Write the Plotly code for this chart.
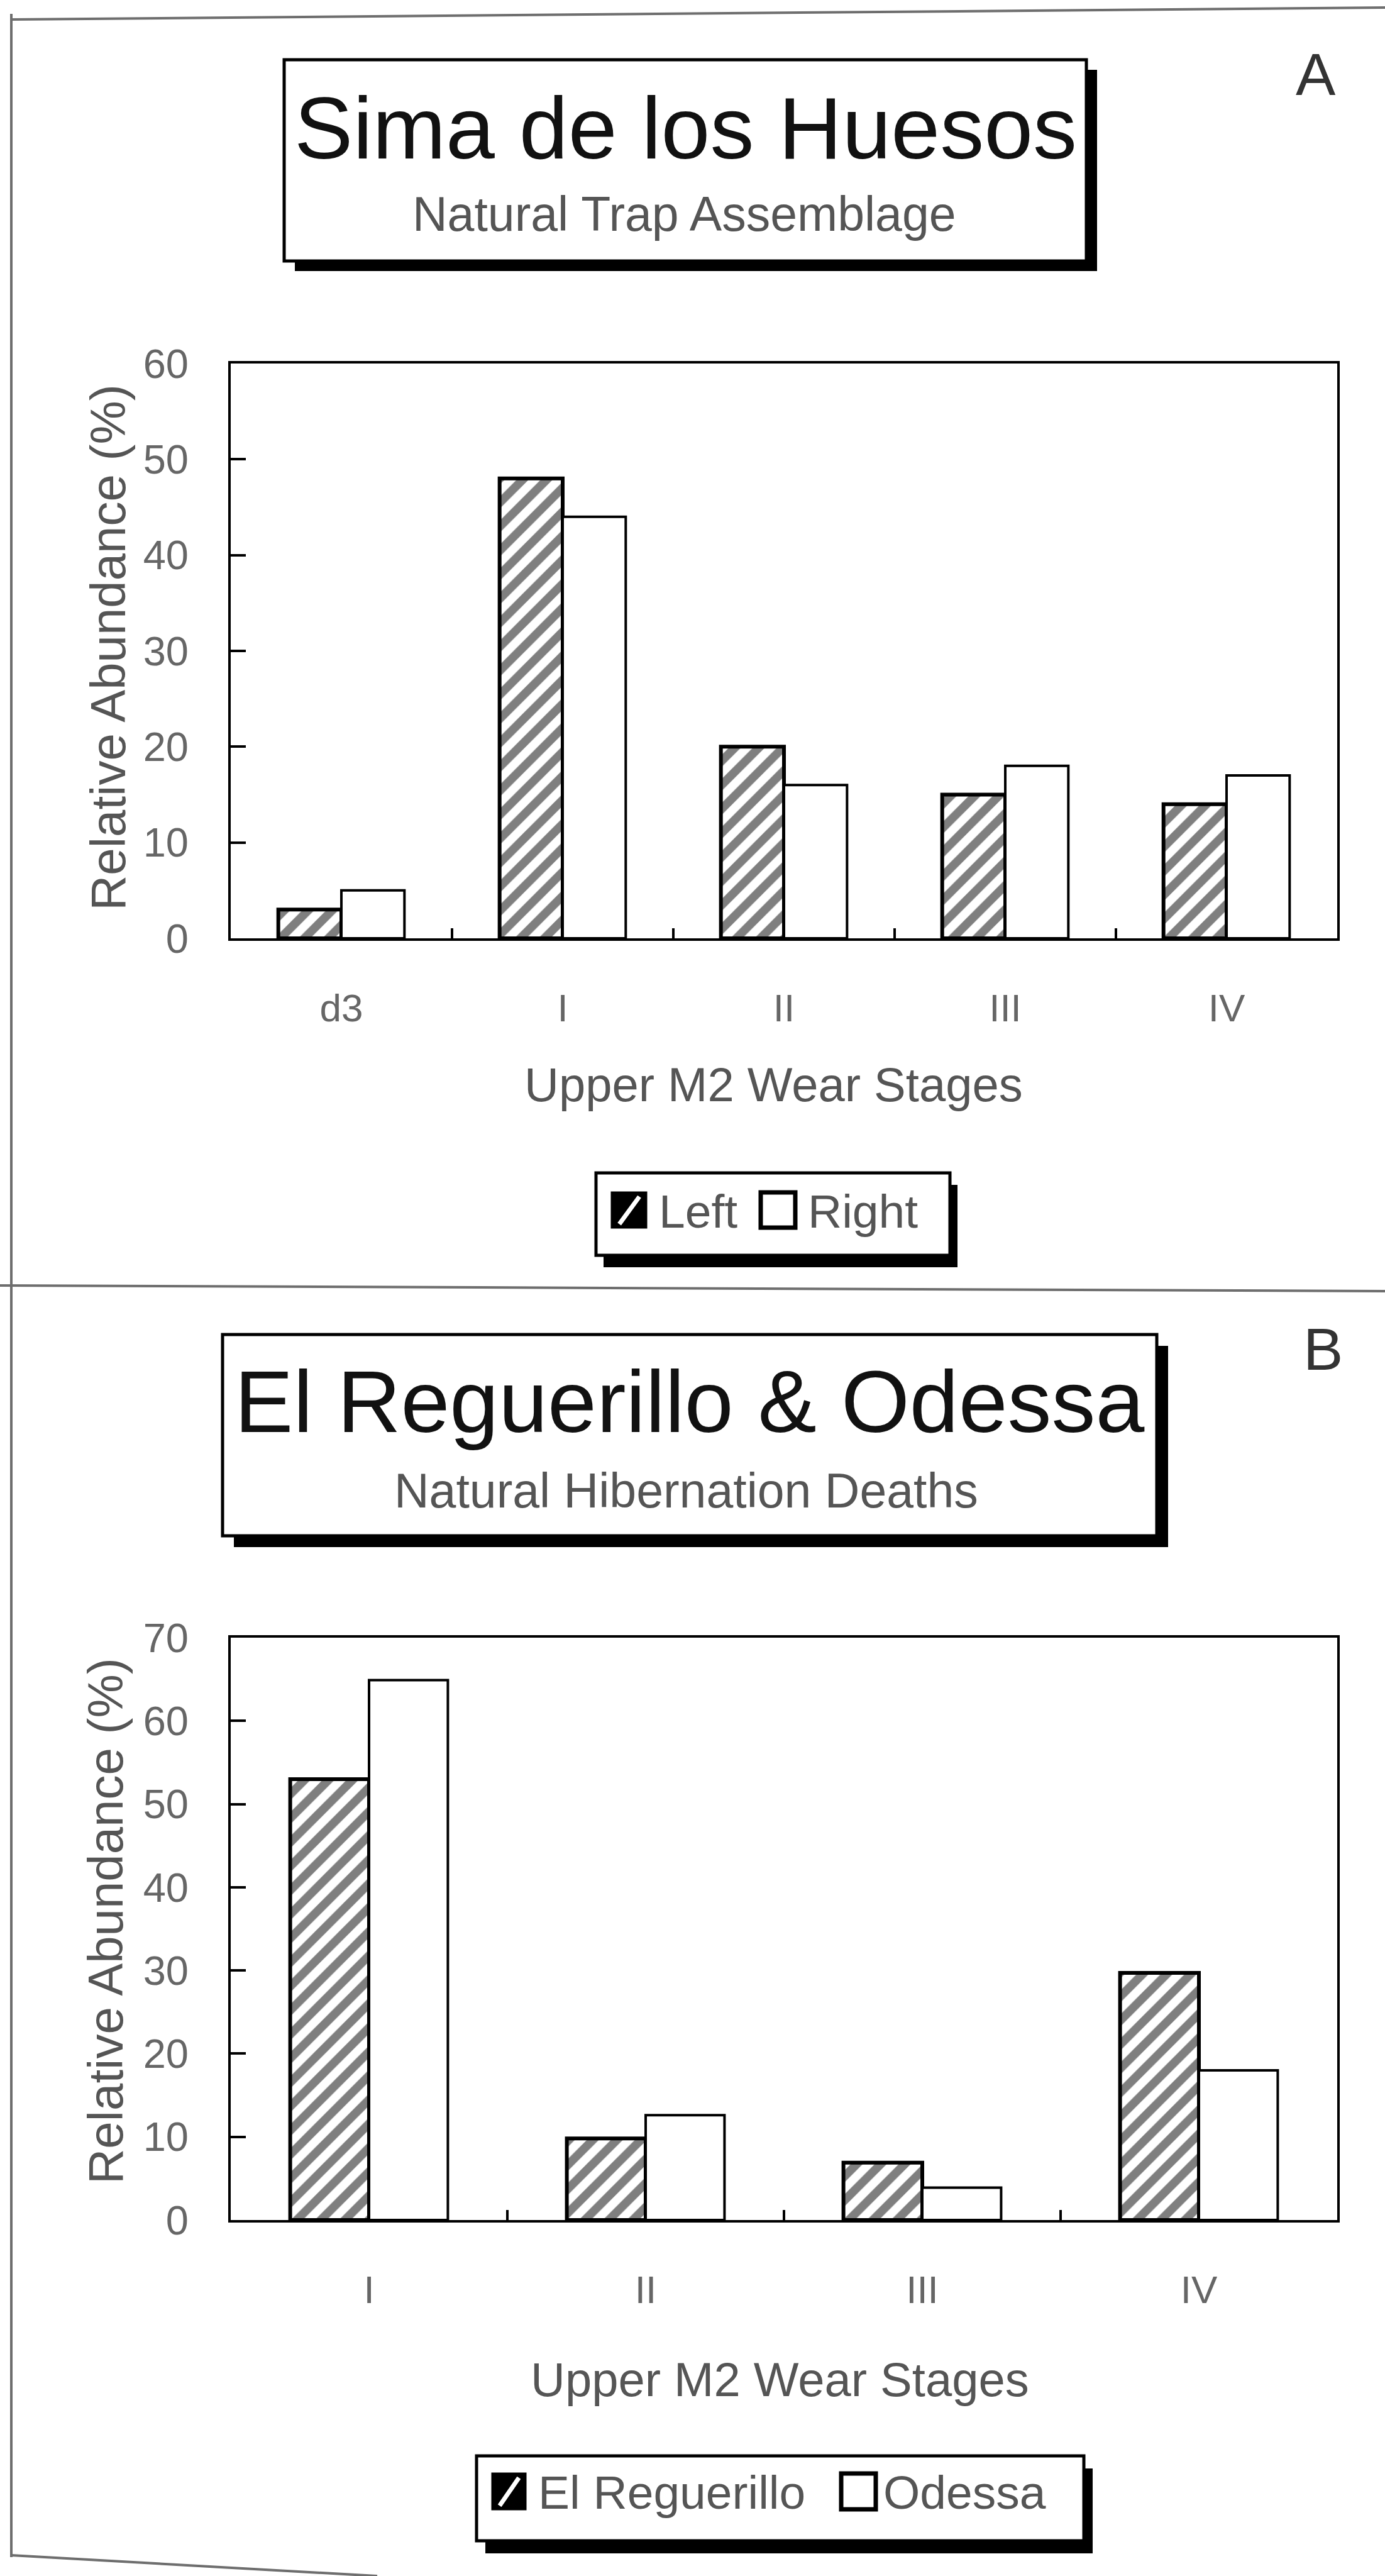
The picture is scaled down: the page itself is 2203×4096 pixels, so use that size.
import plotly.graph_objects as go

# ---- data -------------------------------------------------------------
stages_a = ["d3", "I", "II", "III", "IV"]
left_pct = [3, 48, 20, 15, 14]
right_pct = [5, 44, 16, 18, 17]

stages_b = ["I", "II", "III", "IV"]
reguerillo_pct = [53, 9.8, 6.9, 29.7]
odessa_pct = [64.9, 12.6, 3.9, 18.0]

y_ticks_a = [0, 10, 20, 30, 40, 50, 60]
y_ticks_b = [0, 10, 20, 30, 40, 50, 60, 70]

# ---- page geometry (pixels) ------------------------------------------
W, H = 2203, 4096
FONT = "Liberation Sans, Arial, Helvetica, sans-serif"


def fx(x):
    return x / W


def fy(y):
    return 1 - y / H


hatched = dict(
    color="white",
    line=dict(color="black", width=6),
    pattern=dict(shape="/", fgcolor="black", bgcolor="white", size=27, solidity=0.5),
)
plain = dict(color="white", line=dict(color="black", width=4))

fig = go.Figure()
fig.add_trace(go.Bar(x=stages_a, y=left_pct, name="Left", marker=hatched,
                     xaxis="x", yaxis="y", showlegend=False))
fig.add_trace(go.Bar(x=stages_a, y=right_pct, name="Right", marker=plain,
                     xaxis="x", yaxis="y", showlegend=False))
fig.add_trace(go.Bar(x=stages_b, y=reguerillo_pct, name="El Reguerillo", marker=hatched,
                     xaxis="x2", yaxis="y2", showlegend=False))
fig.add_trace(go.Bar(x=stages_b, y=odessa_pct, name="Odessa", marker=plain,
                     xaxis="x2", yaxis="y2", showlegend=False))

axis_common = dict(
    showline=True, mirror=True, linecolor="black", linewidth=4,
    ticks="inside", tickcolor="black", tickwidth=4,
    showgrid=False, zeroline=False, automargin=False,
)
x_common = dict(axis_common, type="category", tickson="boundaries", ticklen=16,
                tickfont=dict(family=FONT, size=62, color="#666666"),
                ticklabelstandoff=54)
y_common = dict(axis_common, ticklen=24,
                tickfont=dict(family=FONT, size=65, color="#666666"),
                ticklabelstandoff=50)

x_dom = [fx(367), fx(2127)]
fig.update_layout(
    width=W, height=H,
    margin=dict(l=0, r=0, t=0, b=0, pad=0, autoexpand=False),
    paper_bgcolor="white", plot_bgcolor="white",
    barmode="group", bargap=0.43, bargroupgap=0,
    showlegend=False,
    xaxis=dict(x_common, domain=x_dom, anchor="y"),
    yaxis=dict(y_common, domain=[fy(1492), fy(578)], anchor="x",
               range=[0, 60], tickvals=y_ticks_a),
    xaxis2=dict(x_common, domain=x_dom, anchor="y2"),
    yaxis2=dict(y_common, domain=[fy(3530), fy(2604)], anchor="x2",
                range=[0, 70], tickvals=y_ticks_b),
)

shapes = []
annotations = []


def line(x0, y0, x1, y1, color="#6e6e6e", width=4):
    shapes.append(dict(type="line", xref="paper", yref="paper",
                       x0=fx(x0), y0=fy(y0), x1=fx(x1), y1=fy(y1),
                       line=dict(color=color, width=width)))


def rect(x0, y0, x1, y1, fill, color="black", width=0):
    shapes.append(dict(type="rect", xref="paper", yref="paper",
                       x0=fx(x0), y0=fy(y0), x1=fx(x1), y1=fy(y1),
                       fillcolor=fill, line=dict(color=color, width=width)))


def shadow_box(x0, y0, x1, y1, dx, dy, width=5):
    rect(x0 + dx, y0 + dy, x1 + dx, y1 + dy, "black")
    rect(x0, y0, x1, y1, "white", "black", width)


def text(s, x, y, size, color, xanchor="center", angle=0):
    annotations.append(dict(text=s, xref="paper", yref="paper", x=fx(x), y=fy(y),
                            xanchor=xanchor, yanchor="middle", showarrow=False,
                            textangle=angle, font=dict(family=FONT, size=size, color=color)))


def hatched_key(x0, y0, x1, y1):
    rect(x0, y0, x1, y1, "black", "black", 3)
    w, h = x1 - x0, y1 - y0
    line(x0 + 0.22 * w, y1 - 0.1 * h, x0 + 0.8 * w, y0 + 0.12 * h, color="white", width=7)


# ---- outer frame ------------------------------------------------------
line(18, 31, W, 12)
line(18, 22, 18, 4066)
line(0, 2044, W, 2053)
line(18, 4063, 600, H)

# ---- panel A headings -------------------------------------------------
shadow_box(452, 95, 1728, 415, 17, 16)
text("Sima de los Huesos", 1090, 203, 140, "#111111")
text("Natural Trap Assemblage", 1088, 340, 77, "#555555")
text("A", 2093, 118, 95, "#333333")

# ---- panel A axis titles and key ---------------------------------------
text("Relative Abundance (%)", 172, 1030, 78, "#555555", angle=-90)
text("Upper M2 Wear Stages", 1230, 1724, 76, "#555555")
shadow_box(948, 1865, 1511, 1996, 12, 19)
hatched_key(973, 1896, 1028, 1952)
text("Left", 1046, 1926, 75, "#555555", xanchor="left")
rect(1210, 1896, 1265, 1952, "white", "black", 7)
text("Right", 1283, 1926, 75, "#555555", xanchor="left")

# ---- panel B headings -------------------------------------------------
shadow_box(354, 2122, 1840, 2442, 18, 18)
text("El Reguerillo &amp; Odessa", 1097, 2228, 140, "#111111")
text("Natural Hibernation Deaths", 1091, 2370, 77, "#555555")
text("B", 2104, 2145, 95, "#333333")

# ---- panel B axis titles and key ---------------------------------------
text("Relative Abundance (%)", 168, 3055, 78, "#555555", angle=-90)
text("Upper M2 Wear Stages", 1240, 3783, 76, "#555555")
shadow_box(758, 3905, 1724, 4040, 14, 20)
hatched_key(783, 3933, 836, 3990)
text("El Reguerillo", 854, 3963, 75, "#555555", xanchor="left")
rect(1338, 3933, 1393, 3990, "white", "black", 7)
text("Odessa", 1403, 3963, 75, "#555555", xanchor="left")

fig.update_layout(shapes=shapes, annotations=annotations)
fig.write_html("out.html")
